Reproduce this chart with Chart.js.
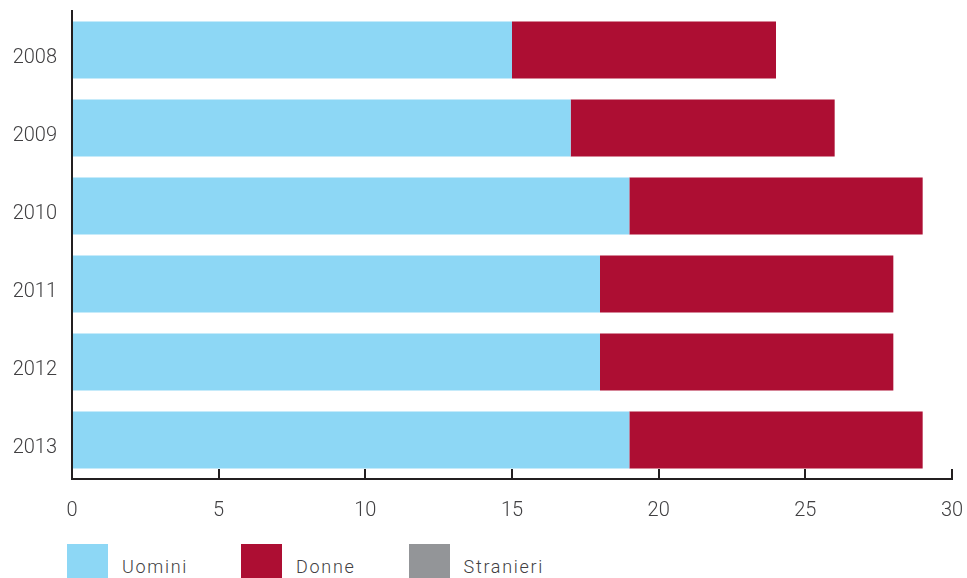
<!DOCTYPE html>
<html>
<head>
<meta charset="utf-8">
<title>Uomini e donne 2008-2013</title>
<script src="https://cdn.jsdelivr.net/npm/chart.js@4"></script>
<style>
  html, body { margin: 0; padding: 0; background: #fff; overflow: hidden; }
  #wrap { position: relative; width: 967px; height: 578px; }
  #barChart { position: absolute; left: 0; top: 0; }
  #legend {
    position: absolute; left: 67px; top: 544px;
    display: flex; gap: 53px;
    font-family: Roboto, sans-serif; font-size: 18px; font-weight: 300; color: #414042;
  }
  #legend .item { display: flex; align-items: flex-start; }
  #legend .box { width: 41px; height: 40px; }
  #legend .txt { margin-left: 14px; margin-top: 12px; line-height: 22px; letter-spacing: 1.7px; }
</style>
</head>
<body>
<div id="wrap">
  <canvas id="barChart" width="967" height="530"></canvas>
  <div id="legend"></div>
</div>
<script>
// anni e valori per serie
const anni = ['2008', '2009', '2010', '2011', '2012', '2013'];
const uomini = [15, 17, 19, 18, 18, 19];
const donne = [9, 9, 10, 10, 10, 10];
const stranieri = [0, 0, 0, 0, 0, 0];
const xTicks = [0, 5, 10, 15, 20, 25, 30];

const axisColor = '#231f20';
const textColor = '#414042';
const tickFont = { family: 'Roboto', size: 20, weight: 300 };

const ctx = document.getElementById('barChart').getContext('2d');
const chart = new Chart(ctx, {
  type: 'bar',
  data: {
    labels: anni,
    datasets: [
      { label: 'Uomini', data: uomini, backgroundColor: '#8dd7f5' },
      { label: 'Donne', data: donne, backgroundColor: '#ad0e33' },
      { label: 'Stranieri', data: stranieri, backgroundColor: '#939598' }
    ]
  },
  options: {
    indexAxis: 'y',
    responsive: false,
    animation: false,
    layout: { padding: { top: 11, right: 15, bottom: 0, left: 0 } },
    datasets: {
      bar: { categoryPercentage: 1, barPercentage: 0.73, borderWidth: 0 }
    },
    plugins: {
      legend: { display: false },
      tooltip: { enabled: false }
    },
    scales: {
      x: {
        stacked: true,
        min: xTicks[0],
        max: xTicks[xTicks.length - 1],
        afterBuildTicks: (scale) => { scale.ticks = xTicks.map(v => ({ value: v })); },
        afterFit: (scale) => {
          // altezza fissa, niente spazio extra ai lati per le etichette
          scale.height = 51;
          scale.paddingLeft = 0;
          scale.paddingRight = 0;
        },
        grid: {
          drawOnChartArea: false,
          drawTicks: true,
          tickLength: -10,
          color: axisColor,
          lineWidth: 2
        },
        border: { display: true, color: axisColor, width: 2 },
        ticks: {
          padding: 30,
          color: textColor,
          font: tickFont
        }
      },
      y: {
        stacked: true,
        afterFit: (scale) => {
          scale.width = 72;
          scale.paddingTop = 0;
          scale.paddingBottom = 0;
        },
        grid: { drawOnChartArea: false, drawTicks: false },
        border: { display: true, color: axisColor, width: 2 },
        ticks: {
          padding: 15,
          labelOffset: 8,
          color: textColor,
          font: tickFont
        }
      }
    }
  }
});

// legenda html costruita dai dataset
const legend = document.getElementById('legend');
chart.data.datasets.forEach(ds => {
  const item = document.createElement('div');
  item.className = 'item';
  const box = document.createElement('span');
  box.className = 'box';
  box.style.background = ds.backgroundColor;
  const txt = document.createElement('span');
  txt.className = 'txt';
  txt.textContent = ds.label;
  item.appendChild(box);
  item.appendChild(txt);
  legend.appendChild(item);
});
</script>
</body>
</html>
